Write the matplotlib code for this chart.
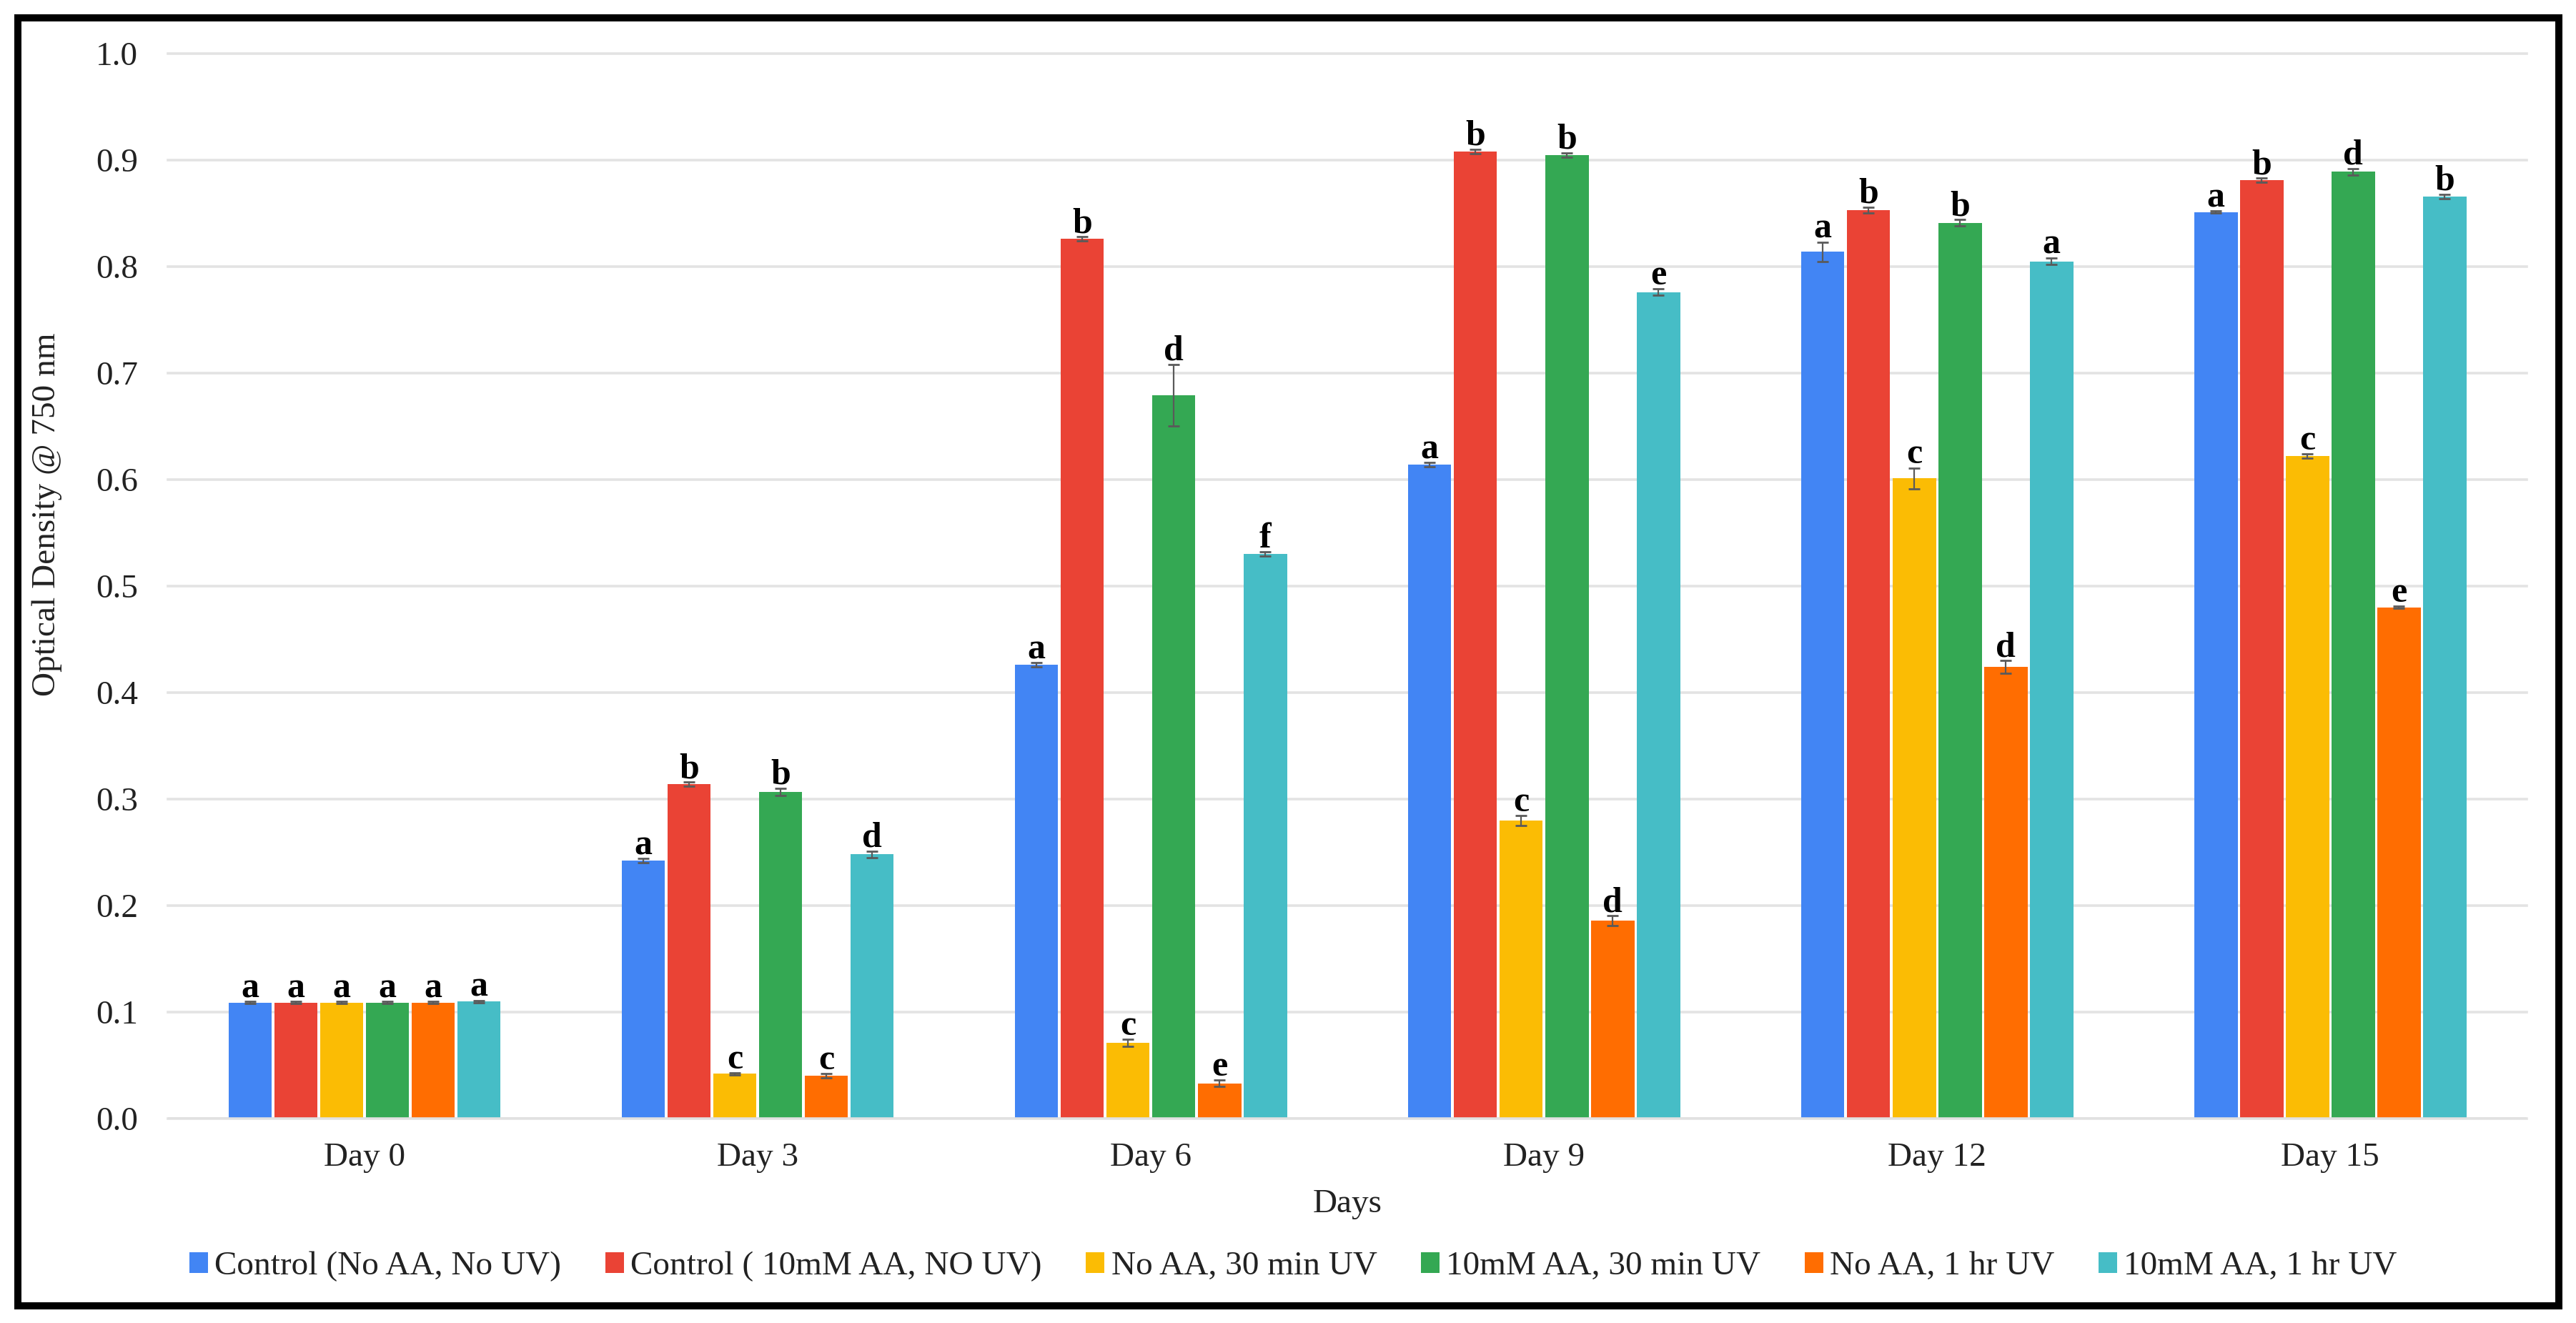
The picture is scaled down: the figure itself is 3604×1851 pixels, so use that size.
import matplotlib
matplotlib.use("Agg")
import matplotlib.pyplot as plt
import numpy as np
from matplotlib.patches import Rectangle

plt.rcParams["font.family"] = ["Liberation Serif", "DejaVu Serif"]

# Datos
days = ["Day 0", "Day 3", "Day 6", "Day 9", "Day 12", "Day 15"]

series_names = [
    "Control (No AA, No UV)",
    "Control ( 10mM AA, NO UV)",
    "No AA, 30 min UV",
    "10mM AA, 30 min UV",
    "No AA, 1 hr UV",
    "10mM AA, 1 hr UV",
]

control_no_aa = [0.109, 0.242, 0.426, 0.614, 0.814, 0.851]
control_aa = [0.109, 0.314, 0.826, 0.908, 0.853, 0.881]
no_aa_30min = [0.109, 0.042, 0.071, 0.280, 0.601, 0.622]
aa_30min = [0.109, 0.307, 0.679, 0.905, 0.841, 0.889]
no_aa_1hr = [0.109, 0.040, 0.033, 0.186, 0.424, 0.480]
aa_1hr = [0.110, 0.248, 0.530, 0.776, 0.805, 0.866]

err_control_no_aa = [0.001, 0.002, 0.002, 0.002, 0.009, 0.001]
err_control_aa = [0.001, 0.002, 0.002, 0.002, 0.003, 0.002]
err_no_aa_30min = [0.001, 0.001, 0.0035, 0.0045, 0.010, 0.002]
err_aa_30min = [0.001, 0.0034, 0.029, 0.002, 0.003, 0.003]
err_no_aa_1hr = [0.001, 0.002, 0.003, 0.0045, 0.006, 0.001]
err_aa_1hr = [0.001, 0.003, 0.002, 0.003, 0.003, 0.002]

let_control_no_aa = ["a", "a", "a", "a", "a", "a"]
let_control_aa = ["a", "b", "b", "b", "b", "b"]
let_no_aa_30min = ["a", "c", "c", "c", "c", "c"]
let_aa_30min = ["a", "b", "d", "b", "b", "d"]
let_no_aa_1hr = ["a", "c", "e", "d", "d", "e"]
let_aa_1hr = ["a", "d", "f", "e", "a", "b"]

values = [control_no_aa, control_aa, no_aa_30min, aa_30min, no_aa_1hr, aa_1hr]
errors = [err_control_no_aa, err_control_aa, err_no_aa_30min,
          err_aa_30min, err_no_aa_1hr, err_aa_1hr]
letters = [let_control_no_aa, let_control_aa, let_no_aa_30min,
           let_aa_30min, let_no_aa_1hr, let_aa_1hr]

# Paleta por defecto de Google Sheets
COLORS = ["#4285F4", "#EA4335", "#FBBC04", "#34A853", "#FF6D01", "#46BDC6"]

fig = plt.figure(figsize=(18.02, 9.255), dpi=200)
ax = fig.add_axes([0.0652, 0.1545, 0.9157, 0.805])

pitch = 0.1164
x = np.arange(len(days))
for j, (vals, errs, lets) in enumerate(zip(values, errors, letters)):
    pos = x + (j - 2.5) * pitch
    ax.bar(pos, vals, width=pitch * 0.95, color=COLORS[j],
           label=series_names[j], zorder=2)
    ax.errorbar(pos, vals, yerr=errs, fmt="none", ecolor="#5a5a5a",
                elinewidth=0.8, capsize=2.9, capthick=1.0, zorder=3)
    for xp, v, e, t in zip(pos, vals, errs, lets):
        ax.annotate(t, (xp, v + e), xytext=(0, 2.2), textcoords="offset points",
                    ha="center", va="baseline", fontsize=18,
                    fontweight="bold", color="black", zorder=4)

ax.set_xlim(-0.5, len(days) - 0.5)
ax.set_ylim(0, 1.0)
ax.set_yticks(np.arange(0, 1.01, 0.1))
ax.set_yticklabels([f"{t:.1f}" for t in np.arange(0, 1.01, 0.1)])
ax.set_xticks(x)
ax.set_xticklabels(days)
ax.tick_params(axis="both", length=0, labelsize=17, colors="#222222")
ax.tick_params(axis="y", pad=15)
ax.tick_params(axis="x", pad=12)

ax.yaxis.grid(True, color="#e3e3e3", linewidth=1.3)
for gl in ax.get_ygridlines():
    gl.set_clip_on(False)
ax.set_axisbelow(True)
ax.axhline(0, color="#e0e0e0", linewidth=1.3, zorder=2.5)
for s in ax.spines.values():
    s.set_visible(False)

ax.set_ylabel("Optical Density @ 750 nm", fontsize=17, color="#222222")
ax.yaxis.set_label_coords(-0.0448, 0.567)
ax.set_xlabel("Days", fontsize=17, color="#222222")
ax.xaxis.set_label_coords(0.5, -0.066)

fig.legend(loc="center", bbox_to_anchor=(0.502, 0.0427), ncol=6, frameon=False,
           fontsize=17, handlelength=0.55, handleheight=0.55,
           handletextpad=0.2, columnspacing=1.3, labelcolor="#222222")

# Marco negro alrededor de la figura
fig.patches.append(Rectangle((0.00694, 0.01297), 0.9864, 0.97379,
                             transform=fig.transFigure, fill=False,
                             edgecolor="black", linewidth=3.6))

fig.savefig("out.png", dpi=200)
